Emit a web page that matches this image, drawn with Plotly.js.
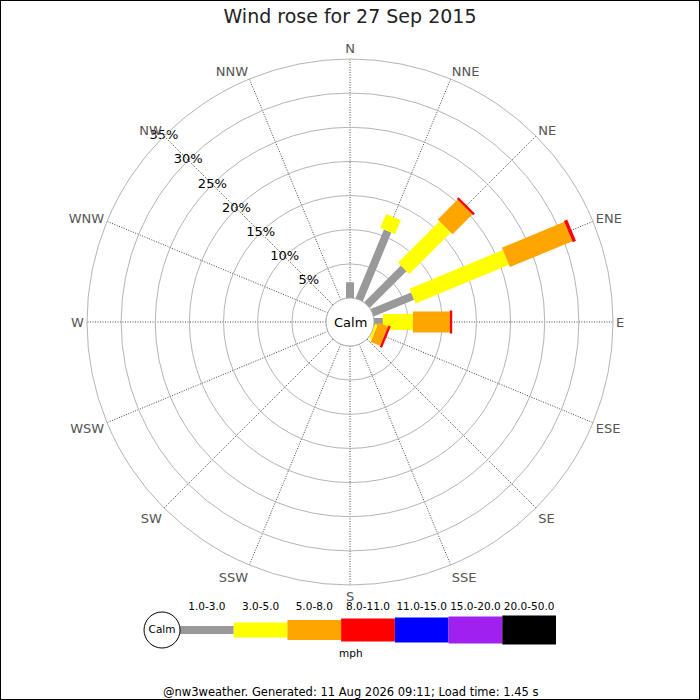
<!DOCTYPE html>
<html><head><meta charset="utf-8">
<script src="https://cdn.plot.ly/plotly-3.0.1.min.js"></script>
<style>html,body{margin:0;padding:0;background:#fff}</style>
</head><body><div id="chart" style="width:700px;height:700px"></div>
<script>
// ---- data ----
const directions = ['N','NNE','NE','ENE','E','ESE','SE','SSE','S','SSW','SW','WSW','W','WNW','NW','NNW'];
const directionAngles = [0,22.5,45,67.5,90,112.5,135,157.5,180,202.5,225,247.5,270,292.5,315,337.5];
const speedBins = ['1.0-3.0','3.0-5.0','5.0-8.0','8.0-11.0','11.0-15.0','15.0-20.0','20.0-50.0'];
// frequency (%) per direction for each speed bin
const freq1to3   = [2.3,10.9,7.6,6.4,1.3,0,0,0,0,0,0,0,0,0,0,0];
const freq3to5   = [0,2.2,8.6,14.8,4.4,0.4,0,0,0,0,0,0,0,0,0,0];
const freq5to8   = [0,0,4.1,9.9,5.4,1.5,0,0,0,0,0,0,0,0,0,0];
const freq8to11  = [0,0,0.35,0.5,0.35,0.35,0,0,0,0,0,0,0,0,0,0];
const freq11to15 = [0,0,0,0,0,0,0,0,0,0,0,0,0,0,0,0];
const freq15to20 = [0,0,0,0,0,0,0,0,0,0,0,0,0,0,0,0];
const freq20to50 = [0,0,0,0,0,0,0,0,0,0,0,0,0,0,0,0];
const radialTicks = [5,10,15,20,25,30,35];
const titleText = 'Wind rose for 27 Sep 2015';
const footerText = '@nw3weather. Generated: 11 Aug 2026 09:11; Load time: 1.45 s';

// ---- styles ----
const binColors = ['#999999','#ffff00','#ffa500','#ff0000','#0000ff','#a020f0','#000000'];
const roseWidths = [8,16,21,23,25,27,29];
const legendWidths = [8,15,20,23,25,27,29];
const FONT = 'DejaVu Sans';

const binFreqs = [freq1to3,freq3to5,freq5to8,freq8to11,freq11to15,freq15to20,freq20to50];
const traces = [];

// calm circle outline at hole edge
const circTheta = [], circR = [];
for (let a = 0; a <= 360; a += 3) { circTheta.push(a); circR.push(0); }
traces.push({type:'scatterpolar', mode:'lines', r:circR, theta:circTheta,
  line:{color:'#aaaaaa', width:1}, hoverinfo:'skip', cliponaxis:false, showlegend:false});

// stacked rose bars
const cum = directions.map(() => 0);
binFreqs.forEach((f, b) => {
  const r = [], th = [];
  f.forEach((v, i) => {
    if (v > 0) {
      r.push(cum[i], cum[i] + v, null);
      th.push(directionAngles[i], directionAngles[i], null);
      cum[i] += v;
    }
  });
  if (r.length) {
    traces.push({type:'scatterpolar', mode:'lines', r:r, theta:th, connectgaps:false,
      line:{color:binColors[b], width:roseWidths[b]}, hoverinfo:'skip',
      cliponaxis:false, showlegend:false, name:speedBins[b]});
  }
});

// radial percentage labels along NW
traces.push({type:'scatterpolar', mode:'text', r:radialTicks, theta:radialTicks.map(() => 315),
  text:radialTicks.map(v => v + '%'), textposition:'middle center',
  textfont:{family:FONT, size:13, color:'#000'}, hoverinfo:'skip', cliponaxis:false, showlegend:false});

// ---- legend bar (cartesian subplot) ----
speedBins.forEach((s, i) => {
  traces.push({type:'scatter', mode:'lines', x:[i, i + 1], y:[0, 0], xaxis:'x', yaxis:'y',
    line:{color:binColors[i], width:legendWidths[i]}, hoverinfo:'skip', showlegend:false, cliponaxis:false});
});
traces.push({type:'scatter', mode:'text', x:speedBins.map((_, i) => i + 0.5), y:speedBins.map(() => 0.77),
  text:speedBins, textposition:'middle center', textfont:{family:FONT, size:10.5, color:'#000'},
  hoverinfo:'skip', showlegend:false, cliponaxis:false});
traces.push({type:'scatter', mode:'markers+text', x:[-0.335], y:[0], text:['Calm'],
  textposition:'middle center', textfont:{family:FONT, size:10.5, color:'#000'},
  marker:{size:36, color:'#ffffff', line:{color:'#000', width:1}},
  hoverinfo:'skip', showlegend:false, cliponaxis:false});

const cx = 350, cyTop = 322, R = 263, hole = 24;
const layout = {
  width:700, height:700, margin:{l:0, r:0, t:0, b:0},
  paper_bgcolor:'#ffffff', plot_bgcolor:'#ffffff', showlegend:false,
  title:{text:titleText, font:{family:FONT, size:19, color:'#222'}, x:0.5, xanchor:'center',
    xref:'paper', yref:'container', y:1 - 16.5/700, yanchor:'middle'},
  polar:{
    domain:{x:[(cx - R)/700, (cx + R)/700], y:[(700 - cyTop - R)/700, (700 - cyTop + R)/700]},
    hole: hole / R, bgcolor:'#ffffff',
    radialaxis:{range:[0, 35], tickmode:'array', tickvals:radialTicks, showticklabels:false, ticks:'',
      showline:false, gridcolor:'#b4b4b4', gridwidth:1, angle:135},
    angularaxis:{rotation:90, direction:'clockwise', tickmode:'array', tickvals:directionAngles,
      ticktext:directions, ticks:'', showline:true, linecolor:'#b4b4b4', linewidth:1,
      gridcolor:'#444444', griddash:'1px,1.5px', gridwidth:1,
      tickfont:{family:FONT, size:13, color:'#555555'}}
  },
  xaxis:{domain:[(180 - 53.7)/700, 556/700], range:[-1, 7], visible:false, fixedrange:true},
  yaxis:{domain:[40/700, 100/700], range:[-1, 1], visible:false, fixedrange:true},
  annotations:[
    {text:'Calm', xref:'paper', yref:'paper', x:cx/700, y:(700 - cyTop)/700, showarrow:false,
      font:{family:FONT, size:13, color:'#000'}, xanchor:'center', yanchor:'middle'},
    {text:'mph', xref:'paper', yref:'paper', x:351/700, y:(700 - 653)/700, showarrow:false,
      font:{family:FONT, size:10.5, color:'#000'}, xanchor:'center', yanchor:'middle'},
    {text:footerText, xref:'paper', yref:'paper', x:0.5, y:(700 - 692)/700, showarrow:false,
      font:{family:FONT, size:11.5, color:'#000'}, xanchor:'center', yanchor:'middle'}
  ],
  shapes:[{type:'rect', xref:'paper', yref:'paper', x0:0, x1:1, y0:0, y1:1,
    line:{color:'#000', width:2}, fillcolor:'rgba(0,0,0,0)'}]
};
Plotly.newPlot('chart', traces, layout, {staticPlot:true, displayModeBar:false});
</script></body></html>
